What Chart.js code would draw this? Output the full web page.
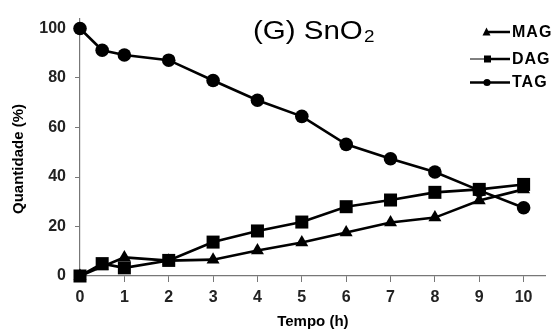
<!DOCTYPE html>
<html><head><meta charset="utf-8">
<script src="https://cdn.jsdelivr.net/npm/chart.js@4/dist/chart.umd.min.js"></script>
<style>html,body{margin:0;padding:0;background:#fff;}#wrap{width:555px;height:331px;position:relative;}</style>
</head><body><div id="wrap"><canvas id="c" width="555" height="331"></canvas></div>
<script>
const times = [0, 0.5, 1, 2, 3, 4, 5, 6, 7, 8, 9, 10];
const MAG = [0, 3.8, 7.5, 6.2, 6.6, 10.3, 13.5, 17.6, 21.6, 23.6, 30.5, 35];
const DAG = [0, 5, 3.3, 6.3, 13.7, 18.2, 21.8, 28, 30.7, 33.8, 35, 37];
const TAG = [100, 91.2, 89.3, 87.2, 79, 71, 64.5, 53.2, 47.4, 42, 34.6, 27.6];
const xTicks = [0,1,2,3,4,5,6,7,8,9,10];
const yTicks = [0,20,40,60,80,100];
const seriesNames = ['MAG','DAG','TAG'];
const yTitle = 'Quantidade (%)';
const xTitle = 'Tempo (h)';

const FONT = "'Liberation Sans', Arial, sans-serif";
function pts(arr){ return times.map((t,i)=>({x:t,y:arr[i]})); }

const legendPlugin = {
  id:'customLegend',
  afterDraw(chart){
    const ctx = chart.ctx;
    ctx.save();
    ctx.fillStyle = '#000';
    ctx.textBaseline = 'alphabetic';
    // title "(G) SnO2" (slightly wide, as in the reference)
    ctx.save();
    ctx.translate(253, 39);
    ctx.scale(1.18, 1);
    ctx.font = "25px " + FONT;
    const main = '(G) SnO';
    ctx.fillText(main, 0, 0);
    const w = ctx.measureText(main).width;
    ctx.font = "16px " + FONT;
    ctx.fillText('2', w + 1, 3);
    ctx.restore();

    // y axis title
    ctx.save();
    ctx.translate(19, 159);
    ctx.rotate(-Math.PI/2);
    ctx.font = "bold 15px " + FONT;
    ctx.textAlign = 'center';
    ctx.textBaseline = 'middle';
    ctx.fillText(yTitle, 0, 0);
    ctx.restore();

    // legend
    ctx.font = "bold 16px " + FONT;
    ctx.strokeStyle = '#000';
    ctx.fillStyle = '#000';
    const rows = [{y:32, name:seriesNames[0], shape:'tri'},{y:59, name:seriesNames[1], shape:'sq'},{y:82.5, name:seriesNames[2], shape:'circ'}];
    rows.forEach(r=>{
      ctx.lineWidth = 2.5;
      ctx.beginPath(); ctx.moveTo(488, r.y); ctx.lineTo(510, r.y); ctx.stroke();
      if (r.shape==='sq'){
        ctx.lineWidth = 1; ctx.beginPath(); ctx.moveTo(470, r.y); ctx.lineTo(485, r.y); ctx.stroke();
        ctx.fillRect(484, r.y-3.5, 7, 7);
      } else if (r.shape==='circ'){
        ctx.lineWidth = 2.5; ctx.beginPath(); ctx.moveTo(470, r.y); ctx.lineTo(488, r.y); ctx.stroke();
        ctx.beginPath(); ctx.arc(487, r.y, 3.6, 0, Math.PI*2); ctx.fill();
      } else {
        ctx.beginPath(); ctx.moveTo(486.5, r.y-4.5); ctx.lineTo(490.5, r.y+3.5); ctx.lineTo(482.5, r.y+3.5); ctx.closePath(); ctx.fill();
      }
      ctx.textBaseline = 'middle';
      ctx.letterSpacing = '1px';
      ctx.fillText(r.name, 512, r.y+0.5);
      ctx.letterSpacing = '0px';
    });
    ctx.restore();
  }
};

const common = {borderColor:'#000', backgroundColor:'#000', borderWidth:2.6, pointBorderColor:'#000', pointBackgroundColor:'#000', pointBorderWidth:0, tension:0, clip:false};
new Chart(document.getElementById('c'), {
  type:'line',
  data:{datasets:[
    Object.assign({label:seriesNames[0], data:pts(MAG), pointStyle:'triangle', pointRadius:7.5}, common),
    Object.assign({label:seriesNames[1], data:pts(DAG), pointStyle:'rect', pointRadius:9.2}, common),
    Object.assign({label:seriesNames[2], data:pts(TAG), pointStyle:'circle', pointRadius:6.8}, common)
  ]},
  options:{
    responsive:false, animation:false, devicePixelRatio:1,
    layout:{padding:{top:11, right:7, left:0, bottom:0}},
    plugins:{legend:{display:false}, tooltip:{enabled:false}},
    scales:{
      x:{type:'linear', min:0, max:10.5,
        afterBuildTicks(s){ s.ticks = xTicks.map(v=>({value:v})); },
        afterFit(s){ s.height = 55; },
        grid:{drawOnChartArea:false, drawTicks:true, tickLength:6, color:'#777', lineWidth:1},
        border:{color:'#777', width:1.2},
        ticks:{color:'#222', font:{family:FONT, size:16, weight:'bold'}, padding:6, maxRotation:0},
        title:{display:true, text:xTitle, color:'#000', font:{family:FONT, size:15, weight:'bold'}, padding:{top:0,bottom:0}}
      },
      y:{type:'linear', min:0, max:104,
        afterBuildTicks(s){ s.ticks = yTicks.map(v=>({value:v})); },
        afterFit(s){ s.width = 80; },
        grid:{drawOnChartArea:false, drawTicks:true, tickLength:5, color:'#777', lineWidth:1},
        border:{color:'#777', width:1.2},
        ticks:{color:'#222', font:{family:FONT, size:16, weight:'bold'}, padding:9},
        title:{display:false, text:yTitle}
      }
    }
  },
  plugins:[legendPlugin]
});
</script></body></html>
